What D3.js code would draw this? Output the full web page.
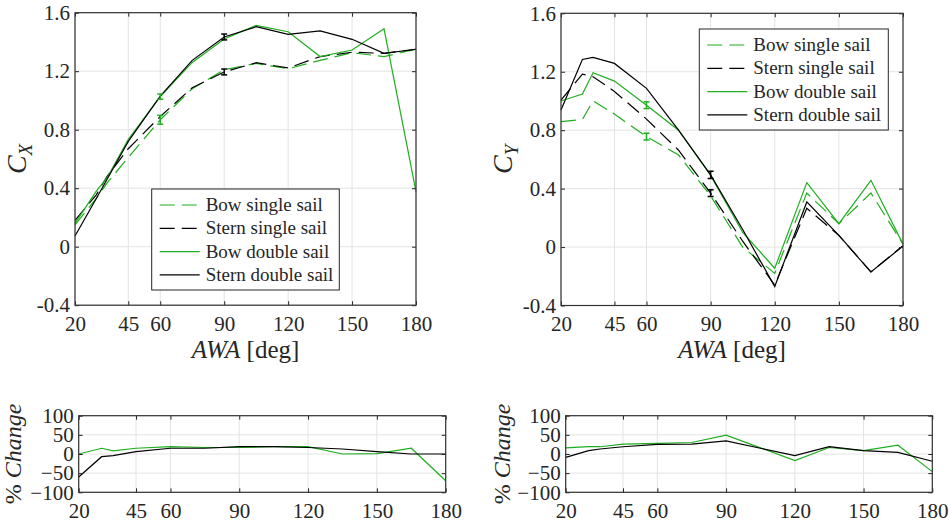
<!DOCTYPE html>
<html>
<head>
<meta charset="utf-8">
<script src="https://cdn.jsdelivr.net/npm/d3@7"></script>
<style>
  body { margin: 0; background: #fff; }
  svg text, svg tspan { font-family: "Liberation Serif", serif !important; fill: #262626; }
</style>
</head>
<body>
<svg id="fig" width="949" height="527"></svg>
<script>
// apparent wind angles (deg)
const awa = [20, 30, 35, 45, 60, 75, 90, 105, 120, 135, 150, 165, 180];
const xTicks = [20, 45, 60, 90, 120, 150, 180];
const cTicks = [-0.4, 0, 0.4, 0.8, 1.2, 1.6];
const cTickLabels = ["-0.4", "0", "0.4", "0.8", "1.2", "1.6"];
const pctTicks = [-100, -50, 0, 50, 100];
const seriesNames = ["Bow single sail", "Stern single sail", "Bow double sail", "Stern double sail"];

// C_X
const cxBowSingle    = [0.15, 0.33, 0.435, 0.61, 0.868, 1.08, 1.21, 1.253, 1.217, 1.274, 1.326, 1.30, 1.35];
const cxSternSingle  = [0.18, 0.355, 0.48, 0.67, 0.89, 1.087, 1.195, 1.258, 1.222, 1.30, 1.33, 1.322, 1.35];
const cxBowDouble    = [0.16, 0.38, 0.47, 0.735, 1.026, 1.26, 1.42, 1.513, 1.47, 1.30, 1.345, 1.49, 0.376];
const cxSternDouble  = [0.073, 0.33, 0.46, 0.72, 1.03, 1.274, 1.434, 1.504, 1.452, 1.475, 1.418, 1.322, 1.35];

// C_Y
const cyBowSingle    = [0.858, 0.874, 1.0, 0.91, 0.756, 0.63, 0.35, 0.0, -0.18, 0.37, 0.16, 0.37, 0.02];
const cySternSingle  = [1.006, 1.184, 1.166, 1.065, 0.876, 0.663, 0.369, 0.04, -0.26, 0.265, 0.08, -0.17, 0.01];
const cyBowDouble    = [1.0, 1.047, 1.193, 1.136, 0.971, 0.80, 0.49, 0.10, -0.145, 0.441, 0.16, 0.457, 0.02];
const cySternDouble  = [0.938, 1.284, 1.298, 1.257, 1.086, 0.80, 0.494, 0.12, -0.27, 0.309, 0.08, -0.171, 0.007];

// error bars: [series index, awa, value, half-range]
const cxErrors = [[2, 60, 1.026, 0.018], [0, 60, 0.868, 0.03], [3, 90, 1.434, 0.02], [1, 90, 1.195, 0.02]];
const cyErrors = [[2, 60, 0.971, 0.023], [0, 60, 0.756, 0.023], [3, 90, 0.494, 0.025], [1, 90, 0.369, 0.023]];

// % change (double vs single)
const pxBow   = [0, 15, 8, 15, 19, 17, 17, 19, 19, 0, 1, 15, -70];
const pxStern = [-60, -7, -4, 6, 15, 15, 19, 19, 17, 13, 6, 0, 0];
const pyBow   = [16, 19, 19, 26, 28, 30, 49, 16, -17, 17, 9, 23, -46];
const pyStern = [-9, 9, 13, 19, 25, 26, 34, 15, -4, 19, 9, 4, -19];

const green = "#1fae1f";
const serif = "'Liberation Serif', serif";
const styles = [
  { color: green, dash: "15,7" },
  { color: "#000", dash: "15,7" },
  { color: green, dash: null },
  { color: "#000", dash: null }
];

const svg = d3.select("#fig");

function panel(o) {
  const x = d3.scaleLinear().domain([20, 180]).range([o.l, o.r]);
  const y = d3.scaleLinear().domain(o.yDomain).range([o.b, o.t]);
  const g = svg.append("g");

  // grid
  g.selectAll(".gx").data(xTicks).join("line").attr("class", "gx")
    .attr("x1", d => x(d)).attr("x2", d => x(d)).attr("y1", o.t).attr("y2", o.b)
    .attr("stroke", "#e3e3e3").attr("stroke-width", 1);
  g.selectAll(".gy").data(o.yTicks).join("line").attr("class", "gy")
    .attr("x1", o.l).attr("x2", o.r).attr("y1", d => y(d)).attr("y2", d => y(d))
    .attr("stroke", "#e3e3e3").attr("stroke-width", 1);

  // series
  const line = d3.line().x((d, i) => x(awa[i])).y(d => y(d));
  o.series.forEach(s => {
    const st = styles[s.style];
    g.append("path").datum(s.values)
      .attr("d", line)
      .attr("fill", "none")
      .attr("stroke", st.color)
      .attr("stroke-width", 1.2)
      .attr("stroke-dasharray", st.dash);
  });

  // error bars
  (o.errors || []).forEach(e => {
    const c = styles[e[0]].color;
    const xe = x(e[1]);
    const y0 = y(e[2] - e[3]), y1 = y(e[2] + e[3]);
    g.append("line").attr("x1", xe).attr("x2", xe).attr("y1", y0).attr("y2", y1).attr("stroke", c).attr("stroke-width", 1.5);
    [y0, y1].forEach(v => g.append("line").attr("x1", xe - 3).attr("x2", xe + 3).attr("y1", v).attr("y2", v).attr("stroke", c).attr("stroke-width", 1.5));
  });

  // axes with inward ticks
  const fmtY = o.yLabels ? (d => o.yLabels[o.yTicks.indexOf(d)]) : d3.format("d");
  const styleAxis = a => {
    a.select(".domain").remove();
    a.attr("font-family", serif).attr("font-size", 21);
    a.selectAll(".tick line").attr("stroke", "#262626");
    a.selectAll("text").attr("fill", "#262626").style("font-family", serif).style("font-size", "21px");
  };
  g.append("g").attr("transform", `translate(0,${o.b})`)
    .call(d3.axisBottom(x).tickValues(xTicks).tickSize(-4).tickPadding(11).tickFormat(d3.format("d")))
    .call(styleAxis);
  g.append("g").attr("transform", `translate(0,${o.t})`)
    .call(d3.axisTop(x).tickValues(xTicks).tickSize(-4).tickFormat(""))
    .call(styleAxis);
  g.append("g").attr("transform", `translate(${o.l},0)`)
    .call(d3.axisLeft(y).tickValues(o.yTicks).tickSize(-4).tickPadding(5).tickFormat(fmtY))
    .call(styleAxis);
  g.append("g").attr("transform", `translate(${o.r},0)`)
    .call(d3.axisRight(y).tickValues(o.yTicks).tickSize(-4).tickFormat(""))
    .call(styleAxis);

  g.append("rect").attr("x", o.l).attr("y", o.t).attr("width", o.r - o.l).attr("height", o.b - o.t)
    .attr("fill", "none").attr("stroke", "#333").attr("stroke-width", 1.2);

  // y label
  const yl = g.append("text")
    .attr("transform", `translate(${o.ylx},${(o.t + o.b) / 2}) rotate(-90)`)
    .attr("text-anchor", "middle").style("font-family", serif);
  o.ylabel(yl);

  // x label
  if (o.xlabel) {
    const xl = g.append("text").attr("x", (o.l + o.r) / 2).attr("y", 358)
      .attr("text-anchor", "middle").style("font-family", serif).style("font-size", "25px");
    xl.append("tspan").style("font-style", "italic").text("AWA");
    xl.append("tspan").text(" [deg]");
  }

  // legend
  if (o.legend) {
    const L = o.legend;
    g.append("rect").attr("x", L.x).attr("y", L.y).attr("width", L.w).attr("height", L.h)
      .attr("fill", "#fff").attr("stroke", "#262626").attr("stroke-width", 1);
    seriesNames.forEach((name, i) => {
      const yy = L.y + 16 + i * 23.3;
      g.append("line").attr("x1", L.x + 8).attr("x2", L.x + 48).attr("y1", yy).attr("y2", yy)
        .attr("stroke", styles[i].color).attr("stroke-width", 1.2).attr("stroke-dasharray", styles[i].dash);
      g.append("text").attr("x", L.x + 54).attr("y", yy + 6)
        .style("font-family", serif).style("font-size", "19px").text(name);
    });
  }
}

function cLabel(sub) {
  return t => {
    t.style("font-size", "28px");
    t.append("tspan").style("font-style", "italic").text("C");
    t.append("tspan").style("font-style", "italic").style("font-size", "19px").attr("dy", 6).text(sub);
  };
}
function pctLabel(t) {
  t.style("font-size", "24px");
  t.append("tspan").text("% ");
  t.append("tspan").style("font-style", "italic").text("Change");
}

panel({
  l: 75, r: 416, t: 12.7, b: 305.2, yDomain: [-0.4, 1.6], yTicks: cTicks, yLabels: cTickLabels,
  series: [
    { values: cxBowSingle, style: 0 }, { values: cxSternSingle, style: 1 },
    { values: cxBowDouble, style: 2 }, { values: cxSternDouble, style: 3 }
  ],
  errors: cxErrors, ylx: 26, ylabel: cLabel("X"), xlabel: true,
  legend: { x: 151.7, y: 189, w: 187.6, h: 101 }
});

panel({
  l: 561, r: 903, t: 13.3, b: 305.5, yDomain: [-0.4, 1.6], yTicks: cTicks, yLabels: cTickLabels,
  series: [
    { values: cyBowSingle, style: 0 }, { values: cySternSingle, style: 1 },
    { values: cyBowDouble, style: 2 }, { values: cySternDouble, style: 3 }
  ],
  errors: cyErrors, ylx: 512, ylabel: cLabel("Y"), xlabel: true,
  legend: { x: 699.3, y: 29, w: 189, h: 101 }
});

panel({
  l: 78.7, r: 445.7, t: 415.7, b: 492.3, yDomain: [-100, 100], yTicks: pctTicks,
  series: [{ values: pxBow, style: 2 }, { values: pxStern, style: 3 }],
  ylx: 21, ylabel: pctLabel
});

panel({
  l: 565.7, r: 932.3, t: 415.7, b: 492.3, yDomain: [-100, 100], yTicks: pctTicks,
  series: [{ values: pyBow, style: 2 }, { values: pyStern, style: 3 }],
  ylx: 510, ylabel: pctLabel
});
</script>
</body>
</html>
